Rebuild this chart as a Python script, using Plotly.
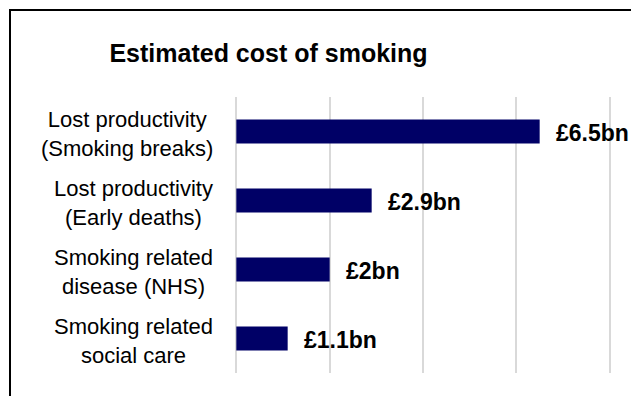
import plotly.graph_objects as go

categories = ["Lost productivity<br>(Smoking breaks)",
              "Lost productivity<br>(Early deaths)",
              "Smoking related<br>disease (NHS)",
              "Smoking related<br>social care"]
values = [6.5, 2.9, 2.0, 1.1]
value_labels = ["£6.5bn", "£2.9bn", "£2bn", "£1.1bn"]
x_ticks = [0, 2, 4, 6, 8]
x_range = [-0.05, 8.05]

W, H = 631, 396
L, R, T, B = 234, 19, 97, 23
pw, ph = W - L - R, H - T - B
FONT = "Liberation Sans, Arial, sans-serif"

def px_x(p):
    return (p - L) / pw

def px_y(p):
    return (H - B - p) / ph

fig = go.Figure()
fig.add_trace(go.Bar(
    x=values, y=categories, orientation="h",
    marker=dict(color="#000066", line=dict(width=0)),
    width=0.35, hoverinfo="skip",
))

annotations = []
for c in categories:
    annotations.append(dict(
        x=px_x(215), xref="paper", y=c, yref="y", text=c,
        xanchor="right", yanchor="middle", align="center", showarrow=False,
        font=dict(family=FONT, size=22, color="#000000"), yshift=-2,
    ))
for c, v, t in zip(categories, values, value_labels):
    annotations.append(dict(
        x=v, xref="x", y=c, yref="y", text="<b>" + t + "</b>",
        xanchor="left", yanchor="middle", showarrow=False, xshift=14,
        font=dict(family=FONT, size=23, color="#000000"), yshift=-1,
    ))

fig.update_layout(
    width=W, height=H,
    margin=dict(l=L, r=R, t=T, b=B, pad=0),
    paper_bgcolor="white", plot_bgcolor="white",
    showlegend=False,
    title=dict(text="<b>Estimated cost of smoking</b>",
               x=268.5 / W, xref="container", xanchor="center",
               y=1 - 53 / H, yref="container", yanchor="middle",
               font=dict(family=FONT, size=25, color="#000000")),
    xaxis=dict(range=x_range, tickvals=x_ticks, showticklabels=False,
               showgrid=True, gridcolor="#d9d9d9", gridwidth=2,
               zeroline=False, showline=False, fixedrange=True),
    yaxis=dict(autorange="reversed", showticklabels=False, showgrid=False,
               zeroline=False, showline=False, ticks=""),
    annotations=annotations,
    shapes=[dict(type="rect", xref="paper", yref="paper",
                 x0=px_x(10), x1=px_x(700), y0=px_y(460), y1=px_y(10),
                 line=dict(color="#000000", width=2), layer="above")],
)

fig.write_html("out.html")
